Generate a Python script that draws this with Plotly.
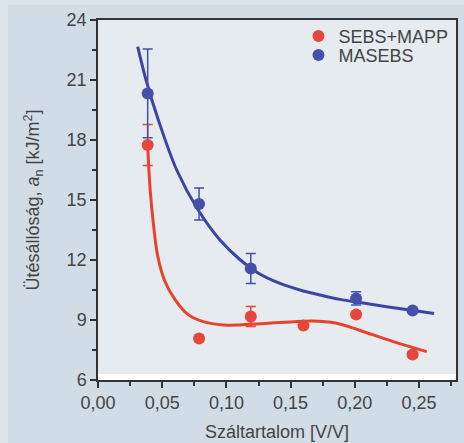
import plotly.graph_objects as go

# ---- data ----
x_pts = [0.0387, 0.0787, 0.119, 0.160, 0.201, 0.245]

sebs_y = [17.75, 8.08, 9.17, 8.72, 9.28, 7.28]
sebs_err = [1.03, 0.0, 0.5, 0.0, 0.0, 0.12]

masebs_x = [0.0387, 0.0787, 0.119, 0.201, 0.245]
masebs_y = [20.33, 14.8, 11.58, 10.08, 9.47]
masebs_err = [2.22, 0.8, 0.75, 0.33, 0.1]

# fitted curves
masebs_fit_x = [0.0309, 0.0374, 0.047, 0.0613, 0.078, 0.095, 0.110, 0.125,
                0.1417, 0.1573, 0.1729, 0.1885, 0.204, 0.2456, 0.2617]
masebs_fit_y = [22.67, 21.0, 19.0, 16.5, 14.5, 13.0, 12.05, 11.34,
                10.83, 10.5, 10.25, 10.03, 9.87, 9.47, 9.32]

sebs_fit_x = [0.0387, 0.0405, 0.0430, 0.0465, 0.0520, 0.0600, 0.070, 0.082,
              0.0976, 0.1105, 0.130, 0.150, 0.1667, 0.185, 0.203, 0.230, 0.256]
sebs_fit_y = [17.75, 15.6, 13.9, 12.2, 10.95, 10.02, 9.28, 8.92,
              8.75, 8.75, 8.83, 8.9, 8.95, 8.85, 8.5, 7.92, 7.42]

x_tick_vals = [0.0, 0.05, 0.10, 0.15, 0.20, 0.25]
y_tick_vals = [6, 9, 12, 15, 18, 21, 24]

RED_M = "#e8453c"
BLUE_M = "#4650aa"
RED_L = "#e8432a"
BLUE_L = "#3b46a3"
TXT = "#444444"
FONT = "Liberation Sans, Arial, sans-serif"

W, H = 464, 443
ML, MR, MT, MB = 98, 8, 20, 63
PW, PH = W - ML - MR, H - MT - MB

fig = go.Figure()

fig.add_trace(go.Scatter(x=sebs_fit_x, y=sebs_fit_y, mode="lines",
                         line=dict(color=RED_L, width=3, shape="spline", smoothing=1.0),
                         showlegend=False, hoverinfo="skip"))
fig.add_trace(go.Scatter(x=masebs_fit_x, y=masebs_fit_y, mode="lines",
                         line=dict(color=BLUE_L, width=3, shape="spline", smoothing=0.9),
                         showlegend=False, hoverinfo="skip"))

fig.add_trace(go.Scatter(x=x_pts, y=sebs_y, mode="markers", name="SEBS+MAPP",
                         marker=dict(color=RED_M, size=12),
                         error_y=dict(type="data", array=sebs_err, visible=True,
                                      color=RED_M, thickness=1.5, width=5),
                         legend="legend"))
fig.add_trace(go.Scatter(x=masebs_x, y=masebs_y, mode="markers", name="MASEBS",
                         marker=dict(color=BLUE_M, size=12),
                         error_y=dict(type="data", array=masebs_err, visible=True,
                                      color=BLUE_M, thickness=1.5, width=5),
                         legend="legend2"))

# white strip at the bottom of the plot area
fig.add_shape(type="rect", xref="paper", yref="y", x0=0, x1=1, y0=6, y1=6.3,
              fillcolor="white", line=dict(width=0), layer="below")
# lighter frame strips of the page (top and left edges)
fig.add_shape(type="rect", xref="paper", yref="paper",
              x0=-ML / PW, x1=1 + MR / PW, y0=1 + (MT - 5) / PH, y1=1 + MT / PH,
              fillcolor="#dce5eb", line=dict(width=0), layer="below")
fig.add_shape(type="rect", xref="paper", yref="paper",
              x0=-ML / PW, x1=-(ML - 8) / PW, y0=-MB / PH, y1=1 + MT / PH,
              fillcolor="#dce5eb", line=dict(width=0), layer="below")

leg_common = dict(font=dict(family=FONT, size=18, color=TXT), bgcolor="rgba(0,0,0,0)",
                  xanchor="left", yanchor="middle", itemwidth=30)

fig.update_layout(
    width=W, height=H,
    margin=dict(l=ML, r=MR, t=MT, b=MB, autoexpand=False),
    paper_bgcolor="#d0dde6",
    plot_bgcolor="#e5ebef",
    separators=", ",
    font=dict(family=FONT, color=TXT, size=18),
    legend=dict(x=0.56, y=0.955, **leg_common),
    legend2=dict(x=0.56, y=0.902, **leg_common),
    xaxis=dict(range=[0, 0.2788], tickvals=x_tick_vals, tickformat=".2f",
               ticks="outside", ticklen=6, tickwidth=1.5, tickcolor="#333",
               showline=True, linecolor="#333", linewidth=1.5, mirror=True,
               showgrid=False, zeroline=False, automargin=False,
               tickfont=dict(size=18, color=TXT),
               minor=dict(dtick=0.025, tick0=0, ticks="outside", ticklen=4,
                          tickwidth=1.5, tickcolor="#333", showgrid=False),
               title=dict(text="Száltartalom [V/V]", font=dict(size=18, color=TXT),
                          standoff=13)),
    yaxis=dict(range=[6, 24], tickvals=y_tick_vals,
               ticks="outside", ticklen=6, tickwidth=1.5, tickcolor="#333",
               showline=True, linecolor="#333", linewidth=1.5, mirror=True,
               showgrid=False, zeroline=False, automargin=False,
               tickfont=dict(size=18, color=TXT),
               minor=dict(dtick=1.5, tick0=6, ticks="outside", ticklen=4,
                          tickwidth=1.5, tickcolor="#333", showgrid=False),
               title=dict(text="Ütésállóság, <i>a</i><sub>n</sub> [kJ/m<sup>2</sup>]",
                          font=dict(size=18, color=TXT), standoff=22)),
)

fig.write_html("out.html")
